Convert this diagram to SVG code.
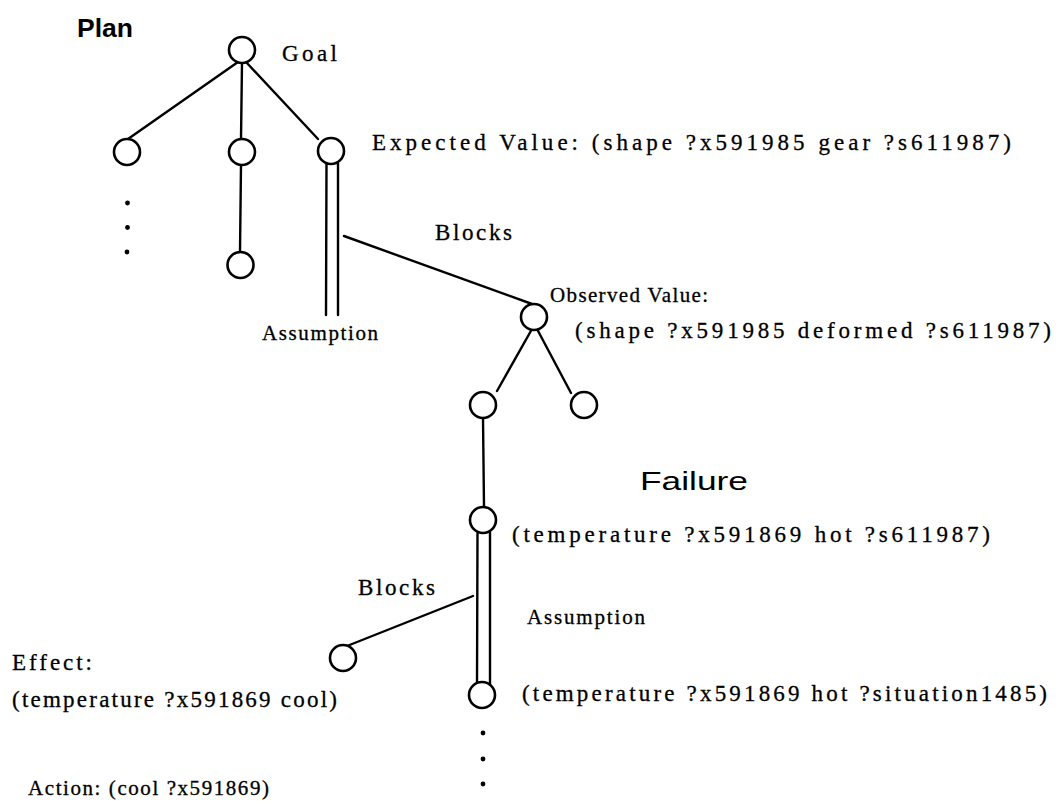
<svg xmlns="http://www.w3.org/2000/svg" width="1059" height="804" viewBox="0 0 1059 804">
<style>
.n{fill:#fff;stroke:#000;stroke-width:2.6}
.e{fill:none;stroke:#000;stroke-width:2.4;stroke-linecap:round}
.d{fill:#000}
.t{font-family:"Liberation Serif","Times New Roman",serif;font-size:23px;fill:#000;stroke:#000;stroke-width:0.3}
.s{font-size:21px}
.h{font-family:"Liberation Sans",Arial,sans-serif;font-size:26px;fill:#000}
</style>
<rect width="1059" height="804" fill="#fff"/>
<g id="connectors">
<line class="e" x1="238" y1="62" x2="128" y2="139"/>
<line class="e" x1="242" y1="63" x2="241" y2="139"/>
<line class="e" x1="246" y1="62" x2="318" y2="139"/>
<line class="e" x1="241" y1="165" x2="240" y2="252"/>
<line class="e" x1="326.5" y1="163" x2="326" y2="315"/>
<line class="e" x1="338" y1="163" x2="338" y2="315"/>
<line class="e" x1="344" y1="236" x2="532" y2="304"/>
<line class="e" x1="532" y1="329" x2="497" y2="391"/>
<line class="e" x1="537" y1="329" x2="571" y2="393"/>
<line class="e" x1="483" y1="418" x2="484" y2="507"/>
<line class="e" x1="477.5" y1="532" x2="477" y2="684"/>
<line class="e" x1="490" y1="532" x2="490" y2="684"/>
<line class="e" x1="473" y1="596" x2="347" y2="646"/>
<circle class="d" cx="127.5" cy="203" r="2.4"/>
<circle class="d" cx="127.5" cy="227.5" r="2.4"/>
<circle class="d" cx="127" cy="252" r="2.4"/>
<circle class="d" cx="483" cy="733" r="2.4"/>
<circle class="d" cx="483" cy="759" r="2.4"/>
<circle class="d" cx="483" cy="784" r="2.4"/>
</g>
<g id="goal"><circle class="n" cx="242" cy="50" r="13"/><text class="t" x="282" y="61" textLength="55" lengthAdjust="spacing">Goal</text></g>
<g id="sub1"><circle class="n" cx="127" cy="152" r="13"/></g>
<g id="sub2"><circle class="n" cx="242" cy="152" r="13"/></g>
<g id="sub2b"><circle class="n" cx="240.5" cy="265" r="13"/></g>
<g id="expected"><circle class="n" cx="331" cy="151" r="13"/><text class="t" x="372" y="150" textLength="639" lengthAdjust="spacing">Expected Value: (shape ?x591985 gear ?s611987)</text></g>
<g id="observed"><circle class="n" cx="534" cy="317" r="13"/><text class="t s" x="550" y="302" textLength="158" lengthAdjust="spacing">Observed Value:</text><text class="t" x="575" y="338" textLength="476" lengthAdjust="spacing">(shape ?x591985 deformed ?s611987)</text></g>
<g id="obs1"><circle class="n" cx="483" cy="405" r="13"/></g>
<g id="obs2"><circle class="n" cx="584" cy="405" r="13"/></g>
<g id="temp1"><circle class="n" cx="483" cy="520" r="13"/><text class="t" x="512" y="542" textLength="478" lengthAdjust="spacing">(temperature ?x591869 hot ?s611987)</text></g>
<g id="temp2"><circle class="n" cx="482" cy="695" r="13"/><text class="t" x="522" y="701" textLength="525" lengthAdjust="spacing">(temperature ?x591869 hot ?situation1485)</text></g>
<g id="effect"><circle class="n" cx="343" cy="658" r="13"/><text class="t" x="12" y="670" textLength="80" lengthAdjust="spacing">Effect:</text><text class="t" x="12" y="707" textLength="325" lengthAdjust="spacing">(temperature ?x591869 cool)</text></g>
<g id="labels">
<text class="h" x="77" y="37" font-weight="bold" textLength="56" lengthAdjust="spacingAndGlyphs">Plan</text>
<text class="h" x="640" y="490" font-size="28" textLength="108" lengthAdjust="spacingAndGlyphs">Failure</text>
<text class="t" x="435" y="240" textLength="77" lengthAdjust="spacing">Blocks</text>
<text class="t s" x="262" y="340" textLength="116" lengthAdjust="spacing">Assumption</text>
<text class="t" x="358" y="595" textLength="77" lengthAdjust="spacing">Blocks</text>
<text class="t s" x="527" y="624" textLength="118" lengthAdjust="spacing">Assumption</text>
<text class="t s" x="28" y="795" textLength="241" lengthAdjust="spacing">Action: (cool ?x591869)</text>
</g>
</svg>
